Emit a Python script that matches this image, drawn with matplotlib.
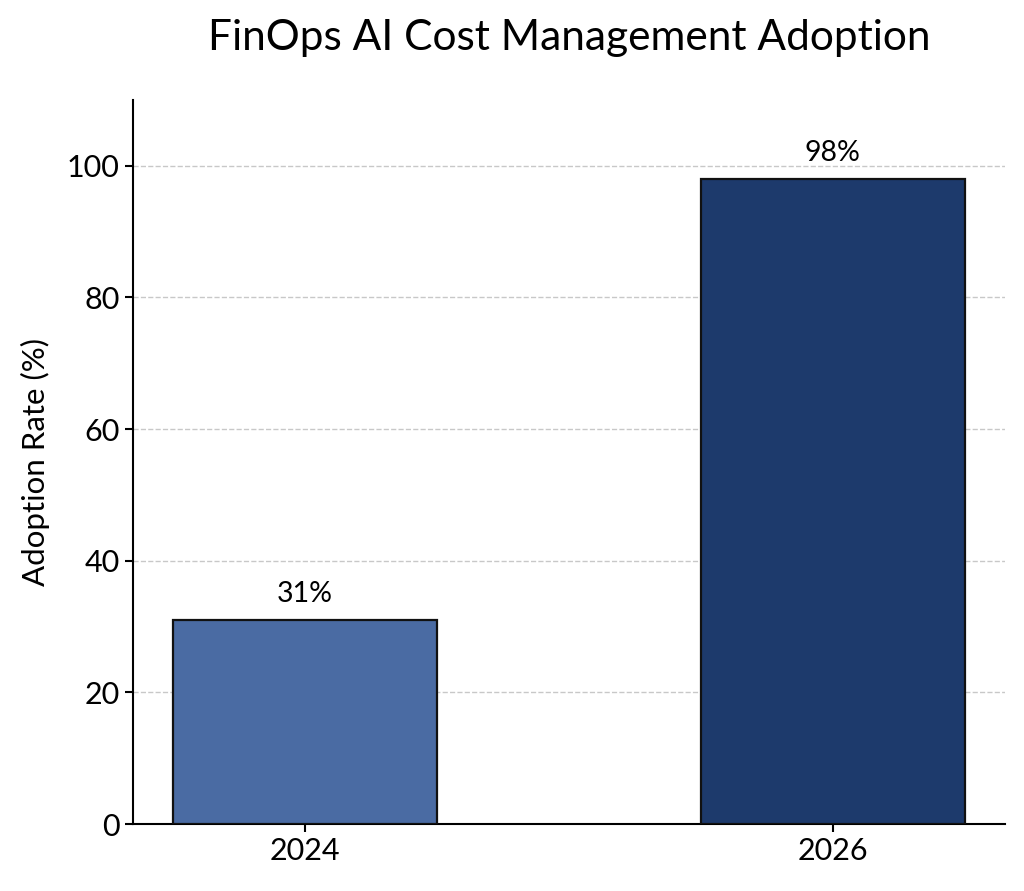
import matplotlib.pyplot as plt

plt.rcParams['font.family'] = ['Lato', 'DejaVu Sans']

# 数据
years = ['2024', '2026']
adoption = [31, 98]
bar_colors = ['#4a6ba3', '#1d3a6c']

fig = plt.figure(figsize=(10.24, 8.91), dpi=100)
ax = fig.add_axes([0.13, 0.075, 0.851, 0.813])

bars = ax.bar(years, adoption, width=0.5, color=bar_colors,
              edgecolor='#111111', linewidth=1.6, zorder=3)

# 柱顶标注
for b, v in zip(bars, adoption):
    ax.text(b.get_x() + b.get_width() / 2, v + 2, f'{v}%',
            ha='center', va='bottom', fontsize=20.5)

ax.set_ylim(0, 110)
ax.set_yticks([0, 20, 40, 60, 80, 100])
ax.set_ylabel('Adoption Rate (%)', fontsize=22.5, labelpad=12)
# 标题居中于坐标轴
fig.suptitle('FinOps AI Cost Management Adoption', fontsize=30.5,
             x=0.5555, y=0.979)

ax.grid(axis='y', linestyle='--', color='#c8c8c8', linewidth=1, zorder=0)
ax.spines['top'].set_visible(False)
ax.spines['right'].set_visible(False)
ax.spines['left'].set_linewidth(1.5)
ax.spines['bottom'].set_linewidth(1.5)
ax.tick_params(labelsize=22, width=1.5, length=6)

plt.savefig('out.png', dpi=100)
